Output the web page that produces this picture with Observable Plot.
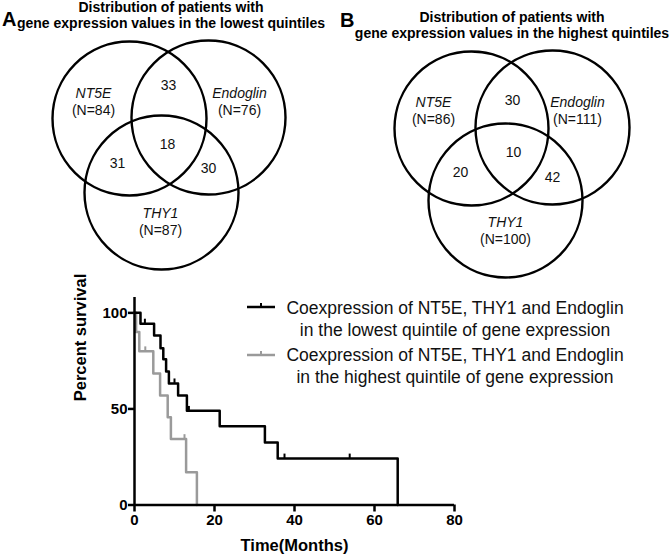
<!DOCTYPE html>
<html><head><meta charset="utf-8">
<script src="https://cdn.jsdelivr.net/npm/d3@7"></script>
<script src="https://cdn.jsdelivr.net/npm/@observablehq/plot@0.6"></script>
<style>
body{margin:0;background:#fff;}
#fig{position:relative;width:672px;height:560px;font-family:"Liberation Sans",Arial,Helvetica,sans-serif;color:#000;overflow:hidden;background:#fff}
.abs{position:absolute}
.title{position:absolute;font-weight:bold;font-size:14px;text-align:center;white-space:nowrap;line-height:16px;transform:translateX(-50%)}
.panel{position:absolute;font-weight:bold;font-size:20px;line-height:20px}
.leg{position:absolute;font-size:17.5px;line-height:22px;text-align:center;white-space:nowrap;transform:translateX(-50%);color:#111}
</style></head>
<body><div id="fig"></div>
<script>
// ---------- DATA ----------
const genes = ["NT5E", "Endoglin", "THY1"];
const lowN = [84, 76, 87];
const highN = [86, 111, 100];
// overlaps order: NT5E∩Endoglin, all three, NT5E∩THY1, Endoglin∩THY1
const overlapNames = ["NT5E∩Endoglin", "all", "NT5E∩THY1", "Endoglin∩THY1"];
const lowOverlaps = [33, 18, 31, 30];
const highOverlaps = [30, 10, 20, 42];

// Kaplan-Meier curves (time in months, percent survival)
const lowTimes = [0, 1.5, 4.9, 6.5, 7.2, 7.9, 8.6, 10.9, 13.1, 21.3, 32.6, 35.8, 65.8];
const lowSurv  = [100, 94.4, 88.2, 81.6, 75.8, 69.5, 63.3, 57, 49, 41, 32.5, 24.2, 0];
const lowCensorT = [2.6, 10.0, 13.6, 37.5, 53.8];
const lowCensorS = [94.4, 63.3, 49, 24.2, 24.2];
const highTimes = [0, 0.4, 1.2, 4.7, 6.4, 8.3, 9.1, 12.9, 15.6];
const highSurv  = [100, 90, 80, 68.5, 57, 45.7, 34.3, 17.1, 0];
const highCensorT = [2.7, 12.5];
const highCensorS = [80, 34.3];
const xTicks = [0, 20, 40, 60, 80];
const yTicks = [0, 50, 100];
const legendLow = ["Coexpression of NT5E, THY1 and Endoglin", "in the lowest quintile of gene expression"];
const legendHigh = ["Coexpression of NT5E, THY1 and Endoglin", "in the highest quintile of gene expression"];

// ---------- LAYOUT (panel coordinates) ----------
const vennLayoutA = {
  circles: [[129, 118], [208, 117], [161, 192]], r: 77,
  names: [[93, 93], [239, 93], [160, 213]],
  overlaps: [[168, 85], [167, 144], [117, 163], [208, 168]]
};
const vennLayoutB = {
  circles: [[135, 128], [216, 127], [169, 200]], r: 77,
  names: [[97, 102], [241, 102], [169, 222]],
  overlaps: [[176, 100], [177, 152], [124, 172], [216, 177]]
};

const fig = document.getElementById("fig");

function venn(layout, ns, overlaps, left) {
  const W = 336, H = 285;
  const circles = genes.map((g, i) => ({g, cx: layout.circles[i][0], cy: layout.circles[i][1], r: layout.r}));
  const names = genes.map((g, i) => ({t: g, x: layout.names[i][0], y: layout.names[i][1]}));
  const counts = genes.map((g, i) => ({t: `(N=${ns[i]})`, x: layout.names[i][0], y: layout.names[i][1] + 17}));
  const ov = overlaps.map((v, i) => ({t: String(v), x: layout.overlaps[i][0], y: layout.overlaps[i][1]}));
  const p = Plot.plot({
    width: W, height: H, margin: 0,
    x: {domain: [0, W], range: [0, W], axis: null},
    y: {domain: [0, H], range: [0, H], axis: null},
    r: {type: "identity"},
    style: {fontFamily: '"Liberation Sans",Arial,sans-serif', color: "#000", background: "transparent"},
    marks: [
      Plot.dot(circles, {x: "cx", y: "cy", r: "r", stroke: "#000", strokeWidth: 2.4, fill: "none"}),
      Plot.text(names, {x: "x", y: "y", text: "t", fontStyle: "italic", fontSize: 14, fill: "#111"}),
      Plot.text(counts, {x: "x", y: "y", text: "t", fontSize: 14, fill: "#111"}),
      Plot.text(ov, {x: "x", y: "y", text: "t", fontSize: 14, fill: "#111"})
    ]
  });
  p.style.position = "absolute"; p.style.left = left + "px"; p.style.top = "0px";
  fig.appendChild(p);
}
venn(vennLayoutA, lowN, lowOverlaps, 0);
venn(vennLayoutB, highN, highOverlaps, 336);

function addDiv(cls, html, left, top) {
  const d = document.createElement("div");
  d.className = cls; d.innerHTML = html;
  d.style.left = left + "px"; d.style.top = top + "px";
  fig.appendChild(d); return d;
}
addDiv("panel", "A", 2, 9);
addDiv("panel", "B", 340, 10);
addDiv("title", "Distribution of patients with<br>gene expression values in the lowest quintiles", 171, -1);
addDiv("title", "Distribution of patients with<br>gene expression values in the highest quintiles", 512, 9);

// ---------- KM plot ----------
const low = lowTimes.map((t, i) => ({t, s: lowSurv[i]}));
const high = highTimes.map((t, i) => ({t, s: highSurv[i]}));
const lowC = lowCensorT.map((t, i) => ({t, s: lowCensorS[i]}));
const highC = highCensorT.map((t, i) => ({t, s: highCensorS[i]}));
const grey = "#9a9a9a";
const km = Plot.plot({
  width: 672, height: 275,
  marginLeft: 134, marginRight: 218, marginTop: 12, marginBottom: 55.5,
  x: {domain: [0, 80]},
  y: {domain: [0, 108]},
  style: {fontFamily: '"Liberation Sans",Arial,sans-serif', color: "#000", background: "transparent", overflow: "visible"},
  marks: [
    Plot.axisX({ticks: xTicks, tickSize: 7, tickPadding: 2, fontSize: 15, fontWeight: "bold", strokeWidth: 2.5, label: null}),
    Plot.axisY({ticks: yTicks, tickSize: 6, tickPadding: 1, fontSize: 15, fontWeight: "bold", strokeWidth: 2.5, label: null}),
    Plot.line(high, {x: "t", y: "s", curve: "step-after", stroke: grey, strokeWidth: 2.5}),
    Plot.ruleX(highC, {x: "t", y1: "s", y2: d => d.s + 2.3, stroke: grey, strokeWidth: 2}),
    Plot.line(low, {x: "t", y: "s", curve: "step-after", stroke: "#000", strokeWidth: 2.5}),
    Plot.ruleX(lowC, {x: "t", y1: "s", y2: d => d.s + 2.3, stroke: "#000", strokeWidth: 2}),
    Plot.ruleX([0], {y1: 0, y2: 108, stroke: "#000", strokeWidth: 2.5}),
    Plot.ruleY([0], {x1: 0, x2: 80, stroke: "#000", strokeWidth: 2.5}),
    Plot.text(["Percent survival"], {frameAnchor: "left", rotate: -90, dx: -54, fontSize: 16.5, fontWeight: "bold"}),
    Plot.text(["Time(Months)"], {frameAnchor: "bottom", dy: 46, fontSize: 16.5, fontWeight: "bold"})
  ]
});
km.style.position = "absolute"; km.style.left = "0px"; km.style.top = "285px";
fig.appendChild(km);

// legend
function swatch(color, top) {
  const ns = "http://www.w3.org/2000/svg";
  const s = document.createElementNS(ns, "svg");
  s.setAttribute("width", 30); s.setAttribute("height", 14);
  s.style.position = "absolute"; s.style.left = "246px"; s.style.top = top + "px";
  const l = document.createElementNS(ns, "line");
  l.setAttribute("x1", 1); l.setAttribute("x2", 29); l.setAttribute("y1", 8); l.setAttribute("y2", 8);
  l.setAttribute("stroke", color); l.setAttribute("stroke-width", 2.5);
  const t = document.createElementNS(ns, "line");
  t.setAttribute("x1", 15); t.setAttribute("x2", 15); t.setAttribute("y1", 8); t.setAttribute("y2", 4);
  t.setAttribute("stroke", color); t.setAttribute("stroke-width", 2);
  s.appendChild(l); s.appendChild(t); fig.appendChild(s);
}
swatch("#000", 299);
swatch(grey, 347);
addDiv("leg", legendLow.join("<br>"), 455, 297);
addDiv("leg", legendHigh.join("<br>"), 455, 344);
</script></body></html>
